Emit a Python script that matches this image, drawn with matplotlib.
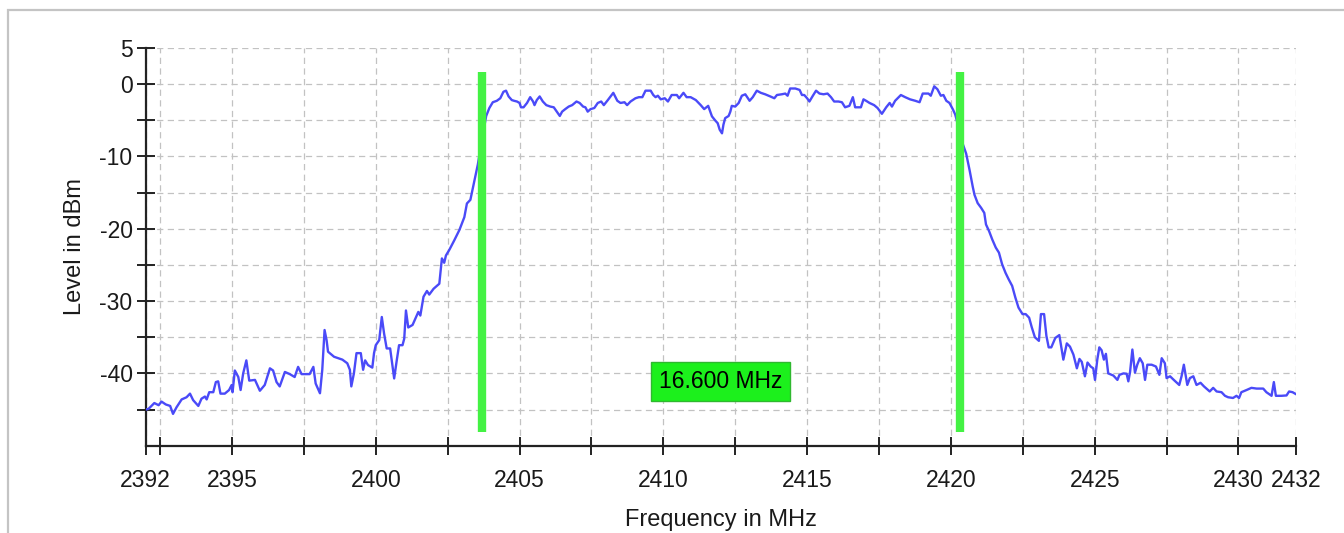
import matplotlib
matplotlib.use("Agg")
import matplotlib.pyplot as plt
from matplotlib.patches import Rectangle

plt.rcParams['font.family'] = ['Liberation Sans', 'DejaVu Sans']

# ---- data ----
freq_mhz = [
    2392.0, 2392.1, 2392.3, 2392.45, 2392.55, 2392.7, 2392.85, 2392.95, 2393.07, 2393.25,
    2393.42, 2393.54, 2393.65, 2393.83, 2393.94, 2394.06, 2394.12, 2394.21, 2394.35, 2394.44,
    2394.52, 2394.6, 2394.75, 2394.9, 2394.99, 2395.02, 2395.1, 2395.22, 2395.3, 2395.39,
    2395.5, 2395.6, 2395.8, 2395.97, 2396.14, 2396.32, 2396.43, 2396.55, 2396.66, 2396.84,
    2397.01, 2397.18, 2397.3, 2397.42, 2397.7,
    2397.83, 2397.91, 2398.06, 2398.14, 2398.22, 2398.29, 2398.34, 2398.55, 2398.84, 2399.01,
    2399.1, 2399.15, 2399.24, 2399.33, 2399.48, 2399.56, 2399.63, 2399.73, 2399.88, 2399.94,
    2400.0, 2400.12, 2400.21, 2400.29, 2400.38, 2400.5, 2400.64, 2400.73, 2400.81, 2400.93,
    2400.99, 2401.05, 2401.13, 2401.28, 2401.4, 2401.48, 2401.55, 2401.66, 2401.78, 2401.86,
    2402.01, 2402.21, 2402.3, 2402.38, 2402.44, 2402.56, 2402.73, 2402.91, 2403.08, 2403.17,
    2403.29, 2403.43, 2403.55, 2403.7,
    2403.84, 2403.95, 2404.07, 2404.21, 2404.33, 2404.44, 2404.53, 2404.62, 2404.73, 2404.81,
    2404.91, 2405.0, 2405.05, 2405.14, 2405.26, 2405.37, 2405.47, 2405.52, 2405.6, 2405.7,
    2405.81, 2405.93, 2406.07, 2406.19, 2406.33, 2406.4, 2406.48, 2406.59, 2406.71, 2406.83,
    2406.98, 2407.09, 2407.21, 2407.29, 2407.37, 2407.47, 2407.6, 2407.72, 2407.84, 2407.93,
    2408.07, 2408.26, 2408.4, 2408.51, 2408.65, 2408.74, 2408.86, 2409.03, 2409.15, 2409.27,
    2409.38, 2409.56, 2409.65, 2409.73, 2409.81, 2409.91, 2410.05, 2410.16, 2410.29, 2410.47,
    2410.55, 2410.7, 2410.81, 2410.95, 2411.13, 2411.3, 2411.42, 2411.56,
    2411.69, 2411.8, 2411.89, 2411.96, 2412.04, 2412.09, 2412.15, 2412.27, 2412.33, 2412.38,
    2412.5, 2412.62, 2412.73, 2412.85, 2413.0, 2413.11, 2413.25, 2413.39, 2413.54, 2413.72,
    2413.86, 2413.95, 2414.12, 2414.24, 2414.32, 2414.41, 2414.59, 2414.74, 2414.82, 2414.9,
    2415.0, 2415.08, 2415.2, 2415.31, 2415.43, 2415.57, 2415.71, 2415.83, 2415.94, 2416.09,
    2416.21, 2416.32, 2416.47, 2416.59, 2416.67, 2416.87, 2416.96, 2417.05, 2417.17, 2417.33,
    2417.45, 2417.6, 2417.75, 2417.87, 2417.95, 2418.06, 2418.26, 2418.41, 2418.58, 2418.76,
    2418.91, 2419.02, 2419.22, 2419.3, 2419.42, 2419.53, 2419.65, 2419.74, 2419.84, 2419.95,
    2420.07, 2420.15, 2420.21, 2420.3,
    2420.53, 2420.65, 2420.76, 2420.82, 2420.93, 2421.05, 2421.16, 2421.22, 2421.33, 2421.44,
    2421.56, 2421.67, 2421.78, 2421.9, 2422.01, 2422.13, 2422.24, 2422.35, 2422.49, 2422.6,
    2422.72, 2422.81, 2422.92, 2423.06, 2423.13, 2423.24, 2423.32, 2423.4, 2423.49, 2423.63,
    2423.77, 2423.91, 2424.03, 2424.14, 2424.26, 2424.38, 2424.47, 2424.55, 2424.66, 2424.75,
    2424.86, 2424.95, 2425.01, 2425.09, 2425.16, 2425.24, 2425.32, 2425.39, 2425.47, 2425.65,
    2425.79, 2425.86, 2426.0, 2426.11, 2426.17, 2426.23, 2426.31, 2426.4, 2426.48, 2426.57,
    2426.67, 2426.75, 2426.83, 2426.98, 2427.13, 2427.25, 2427.33, 2427.44, 2427.5, 2427.62,
    2427.75, 2427.94, 2428.02, 2428.1, 2428.22, 2428.31, 2428.43, 2428.54, 2428.68, 2428.8,
    2429.0, 2429.12, 2429.24, 2429.41, 2429.53, 2429.64, 2429.81, 2429.93, 2430.02, 2430.1,
    2430.28, 2430.45, 2430.63, 2430.86, 2430.97, 2431.15, 2431.23, 2431.3, 2431.49, 2431.67,
    2431.76, 2431.88, 2431.99,
]
level_dbm = [
    -45.0, -44.9, -44.1, -44.4, -43.9, -44.3, -44.5, -45.6, -44.7, -43.6,
    -43.3, -42.8, -43.7, -44.5, -43.5, -43.2, -43.6, -42.6, -42.6, -41.2,
    -41.1, -42.8, -42.8, -42.3, -41.6, -42.6, -39.6, -40.5, -42.3, -40.0,
    -38.2, -41.0, -40.9, -42.4, -41.6, -39.3, -39.6, -41.2, -41.8, -39.8,
    -40.1, -40.5, -39.1, -40.1, -40.1,
    -39.1, -41.4, -42.75, -39.5, -34.0, -35.4, -37.0, -37.7, -38.1, -38.6,
    -39.5, -41.8, -40.0, -37.2, -37.2, -39.5, -38.2, -38.85, -39.2, -37.2,
    -36.1, -35.4, -32.2, -34.5, -36.55, -36.55, -40.7, -38.2, -36.1, -36.1,
    -35.2, -31.3, -33.65, -33.3, -32.2, -31.5, -32.0, -29.4, -28.6, -29.1,
    -28.3, -27.6, -24.1, -24.7, -23.7, -22.9, -21.6, -20.15, -18.4, -16.5,
    -16.0, -13.4, -11.1, -7.5,
    -4.4, -3.3, -2.5, -2.3, -1.95, -1.05, -0.9, -1.7, -2.2, -2.3,
    -2.4, -2.6, -3.2, -3.2, -2.6, -1.8, -2.4, -2.9, -2.2, -1.7,
    -2.4, -2.9, -3.1, -3.2, -4.0, -4.4, -3.8, -3.45, -3.1, -2.9,
    -2.4, -2.6, -3.1, -3.2, -3.8, -3.45, -3.3, -2.6, -2.4, -2.9,
    -2.2, -1.2, -2.3, -2.6, -2.5, -2.9, -2.4, -1.95, -1.8, -1.8,
    -0.9, -0.9, -1.5, -1.8, -1.6, -2.1, -1.95, -2.4, -1.5, -1.5,
    -1.95, -1.2, -1.8, -1.8, -2.2, -2.9, -3.45, -3.0,
    -4.45, -5.0, -5.4, -6.3, -6.8, -5.6, -4.7, -4.4, -3.8, -3.0,
    -3.1, -2.6, -1.6, -1.4, -2.3, -1.8, -0.9, -1.2, -1.4, -1.7,
    -1.95, -1.5, -1.4, -1.3, -1.6, -0.6, -0.6, -0.8, -1.5, -1.5,
    -1.95, -2.4, -1.6, -0.9, -1.3, -1.4, -1.3, -1.8, -2.4, -2.4,
    -2.5, -3.2, -3.0, -1.8, -3.2, -3.2, -2.1, -2.3, -2.6, -2.9,
    -3.3, -4.1, -3.2, -2.6, -3.1, -2.3, -1.5, -1.8, -2.1, -2.3,
    -2.5, -1.3, -1.3, -1.6, -0.3, -0.7, -1.6, -1.5, -2.3, -2.6,
    -3.5, -4.2, -5.1, -7.0,
    -9.6, -11.9, -14.2, -15.3, -16.45, -17.1, -17.8, -19.4, -20.35, -21.5,
    -22.6, -23.3, -24.9, -26.1, -27.0, -27.9, -29.5, -30.9, -31.8, -31.8,
    -32.3, -33.6, -35.0, -35.5, -31.8, -31.8, -34.8, -36.4, -36.4, -35.1,
    -34.7, -38.1, -35.85, -36.3, -37.4, -39.3, -38.0, -38.4, -40.4, -38.5,
    -39.05, -39.3, -40.9, -38.1, -36.4, -36.8, -38.1, -37.3, -40.0, -40.3,
    -40.9, -40.2, -40.0, -40.05, -41.1, -39.8, -36.7, -39.9, -38.8, -37.9,
    -38.6, -40.9, -38.8, -38.8, -39.05, -40.2, -37.9, -38.6, -40.65, -40.4,
    -40.9, -41.6, -40.4, -38.8, -41.6, -40.65, -40.4, -41.6, -41.3, -41.8,
    -42.5, -42.0, -42.5, -42.6, -43.1, -43.3, -43.4, -43.1, -43.4, -42.6,
    -42.3, -42.0, -42.1, -42.1, -42.6, -43.1, -41.2, -43.1, -43.1, -43.05,
    -42.5, -42.6, -42.85,
]

marker_freqs = [2403.7, 2420.3]
marker_range = [-48.1, 1.7]
label_pos = [2412.0, -41.15]

x_ticks = [2392, 2392.5, 2395, 2397.5, 2400, 2402.5, 2405, 2407.5, 2410, 2412.5,
           2415, 2417.5, 2420, 2422.5, 2425, 2427.5, 2430, 2432]
x_tick_labels = ['2392', '', '2395', '', '2400', '', '2405', '', '2410', '',
                 '2415', '', '2420', '', '2425', '', '2430', '2432']
y_ticks = [5, 0, -5, -10, -15, -20, -25, -30, -35, -40, -45]
y_tick_labels = ['5', '0', '', '-10', '', '-20', '', '-30', '', '-40', '']

# ---- figure ----
W, H = 1344, 533
fig = plt.figure(figsize=(W / 100, H / 100), dpi=100)
fig.patch.set_facecolor('white')

# light frame of the chart panel
fig.patches.append(Rectangle((8 / W, -0.2), 1.2, 1 - 10 / H + 0.2, transform=fig.transFigure,
                             fill=False, edgecolor='#c4c4c4', linewidth=1.6, clip_on=False))

left, right, top, bottom = 145.7, 1296.0, 48.0, 445.7
ax = fig.add_axes([left / W, 1 - bottom / H, (right - left) / W, (bottom - top) / H])
ax.set_facecolor('white')

ax.plot(freq_mhz, level_dbm, color='#4a4af8', linewidth=1.7, zorder=3)

ax.vlines(marker_freqs, marker_range[0], marker_range[1], colors='#44f244',
          linewidth=6.0, zorder=4)

bw = marker_freqs[1] - marker_freqs[0]
ax.text(label_pos[0], label_pos[1], f"{bw:.3f} MHz", ha='center', va='center',
        fontsize=16.5, color='black', zorder=5,
        bbox=dict(boxstyle='square,pad=0.34', facecolor='#1cf01c', edgecolor='#2fb82f',
                  linewidth=1.0))

ax.set_xlim(2392, 2432)
ax.set_ylim(-50, 5)

ax.set_xticks(x_ticks)
ax.set_xticklabels(x_tick_labels)
ax.set_yticks(y_ticks)
ax.set_yticklabels(y_tick_labels)

ax.tick_params(axis='both', direction='inout', length=13, width=1.4, color='#222222',
               labelsize=16.5, labelcolor='#1a1a1a')
ax.tick_params(axis='x', pad=10)
ax.tick_params(axis='y', pad=3)

ax.grid(True, color='#c2c2c2', linewidth=0.9, linestyle=(0, (5, 3.5)), zorder=0)
ax.set_axisbelow(True)

for s in ['top', 'right']:
    ax.spines[s].set_visible(False)
for s in ['left', 'bottom']:
    ax.spines[s].set_color('#222222')
    ax.spines[s].set_linewidth(1.6)

ax.set_xlabel('Frequency in MHz', fontsize=17, color='#1a1a1a')
ax.set_ylabel('Level in dBm', fontsize=17, color='#1a1a1a')
ax.xaxis.set_label_coords(0.5, -0.16)
ax.yaxis.set_label_coords(-0.052, 0.5)

fig.savefig('out.png', dpi=100, facecolor='white')
